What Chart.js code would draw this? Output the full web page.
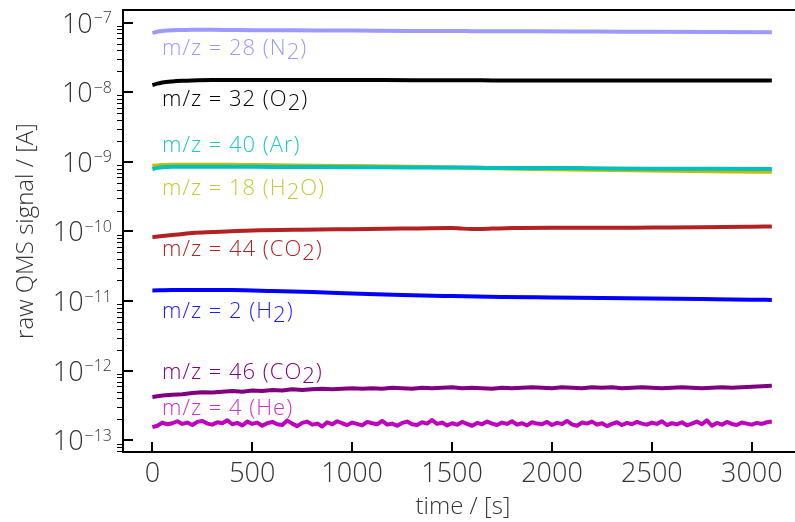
<!DOCTYPE html>
<html><head><meta charset="utf-8">
<script src="https://cdn.jsdelivr.net/npm/chart.js@4.4.0/dist/chart.umd.min.js"></script>
<style>html,body{margin:0;padding:0;overflow:hidden;background:#fff;width:795px;height:522px}#wrap{width:795px;height:522px}</style>
</head><body><div id="wrap"><canvas id="c" width="795" height="522"></canvas></div>
<script>
// ---- data (time in s, signal in A) ----
const tN2 = [0,25,50,100,150,200,300,400,500,700,1000,1300,1500,1600,1700,1900,2200,2500,2800,3100];
const vN2 = [7.1,7.4,7.6,7.8,7.85,7.9,7.9,7.85,7.8,7.75,7.7,7.6,7.6,7.55,7.5,7.5,7.45,7.4,7.35,7.3]; // x1e-8
const tO2 = tN2;
const vO2 = [1.27,1.33,1.38,1.43,1.46,1.48,1.50,1.50,1.50,1.50,1.50,1.49,1.49,1.49,1.48,1.48,1.48,1.47,1.47,1.47]; // x1e-8
const tAr = tN2;
const vAr = [7.9,8.2,8.4,8.5,8.5,8.5,8.5,8.5,8.5,8.45,8.4,8.3,8.3,8.3,8.2,8.2,8.1,8.0,7.95,7.9]; // x1e-10
const tH2O = tN2;
const vH2O = [8.8,8.9,9.0,9.1,9.1,9.1,9.1,9.1,9.0,8.9,8.7,8.5,8.3,8.2,8.1,7.9,7.7,7.5,7.35,7.2]; // x1e-10
const tCO2a = [0,50,100,200,300,500,750,1000,1250,1500,1550,1600,1650,1700,1800,2000,2250,2500,2750,3000,3100];
const vCO2a = [0.83,0.86,0.89,0.95,0.98,1.03,1.06,1.08,1.10,1.12,1.10,1.09,1.09,1.10,1.12,1.13,1.13,1.14,1.15,1.17,1.18]; // x1e-10
const tH2 = [0,100,200,400,600,800,1000,1250,1500,1750,2000,2250,2500,2750,3000,3100];
const vH2 = [1.42,1.44,1.44,1.44,1.40,1.35,1.29,1.22,1.18,1.15,1.13,1.11,1.09,1.07,1.05,1.04]; // x1e-11
const tCO2b = [0,50,100,150,200,250,300,350,400,450,500,550,600,650,700,750,800,850,900,950,1000,1050,1100,1150,1200,1250,1300,1350,1400,1450,1500,1550,1600,1650,1700,1750,1800,1850,1900,1950,2000,2050,2100,2150,2200,2250,2300,2350,2400,2450,2500,2550,2600,2650,2700,2750,2800,2850,2900,2950,3000,3050,3100];
const vCO2b = [4.2,4.4,4.5,4.6,4.8,4.9,4.85,5.0,5.1,5.0,5.2,5.1,5.3,5.2,5.4,5.3,5.4,5.5,5.4,5.5,5.6,5.5,5.6,5.5,5.7,5.6,5.5,5.7,5.6,5.7,5.8,5.6,5.7,5.6,5.5,5.7,5.6,5.7,5.8,5.7,5.6,5.8,5.7,5.6,5.8,5.7,5.8,5.6,5.7,5.8,5.7,5.6,5.7,5.8,5.7,5.6,5.7,5.8,5.7,5.8,5.9,6.0,6.1]; // x1e-13
const tHe = [0,25,50,75,100,125,150,175,200,225,
  250,275,300,325,350,375,400,425,450,475,
  500,525,550,575,600,625,650,675,700,725,
  750,775,800,825,850,875,900,925,950,975,
  1000,1025,1050,1075,1100,1125,1150,1175,1200,1225,
  1250,1275,1300,1325,1350,1375,1400,1425,1450,1475,
  1500,1525,1550,1575,1600,1625,1650,1675,1700,1725,
  1750,1775,1800,1825,1850,1875,1900,1925,1950,1975,
  2000,2025,2050,2075,2100,2125,2150,2175,2200,2225,
  2250,2275,2300,2325,2350,2375,2400,2425,2450,2475,
  2500,2525,2550,2575,2600,2625,2650,2675,2700,2725,
  2750,2775,2800,2825,2850,2875,2900,2925,2950,2975,
  3000,3025,3050,3075,3100];
const vHe = [1.55,1.62,1.80,1.70,1.76,1.88,1.72,1.80,1.66,1.84,
  1.90,1.74,1.68,1.82,1.76,1.94,1.70,1.78,1.64,1.86,
  1.72,1.80,1.62,1.76,1.84,1.70,1.66,1.92,1.74,1.60,
  1.78,1.86,1.68,1.74,1.58,1.82,1.70,1.88,1.76,1.66,
  1.80,1.72,1.64,1.84,1.76,1.70,1.90,1.68,1.74,1.62,
  1.78,1.86,1.70,1.66,1.82,1.74,1.96,1.72,1.80,1.64,
  1.76,1.68,1.84,1.72,1.62,1.78,1.70,1.86,1.74,1.66,
  1.80,1.72,1.88,1.68,1.76,1.64,1.82,1.74,1.70,1.84,
  1.66,1.78,1.72,1.90,1.70,1.62,1.80,1.74,1.86,1.68,
  1.76,1.60,1.72,1.82,1.66,1.78,1.70,1.84,1.74,1.68,
  1.80,1.72,1.88,1.66,1.76,1.70,1.82,1.64,1.74,1.86,
  1.70,1.94,1.62,1.78,1.68,1.84,1.72,1.66,1.80,1.74,
  1.68,1.78,1.72,1.82,1.86]; // x1e-13

const xTicks = [0,500,1000,1500,2000,2500,3000];
const yTickExps = [-13,-12,-11,-10,-9,-8,-7];
const xTitle = 'time / [s]';
const yTitle = 'raw QMS signal / [A]';

// labels: [prefix, subscript, suffix], position (time, signal)
const labelParts = [
  ['m/z = 28 (N','2',')'],
  ['m/z = 32 (O','2',')'],
  ['m/z = 40 (Ar)','',''],
  ['m/z = 18 (H','2','O)'],
  ['m/z = 44 (CO','2',')'],
  ['m/z = 2 (H','2',')'],
  ['m/z = 46 (CO','2',')'],
  ['m/z = 4 (He)','','']
];
const labelX = [48,48,48,48,48,48,48,48];
const labelY = [3.44e-8,6.35e-9,1.40e-9,3.34e-10,4.45e-11,5.71e-12,7.52e-13,2.31e-13];
const labelColors = ['#9a9aff','#000000','#1ec8c8','#c8c832','#b22222','#1a1aff','#800080','#cc33cc'];

const pts = (t, v, s) => t.map((x, i) => ({x: x, y: v[i] * s}));

const FONT = '"Open Sans", "DejaVu Sans", sans-serif';

const decor = {
  id: 'decor',
  afterDraw(chart) {
    const ctx = chart.ctx, a = chart.chartArea;
    const xs = chart.scales.x, ys = chart.scales.y;
    ctx.save();
    // keep the right edge clear (the right spine lies beyond the picture)
    ctx.fillStyle = '#fff';
    ctx.fillRect(786, a.top + 2, 10, a.bottom - a.top - 4);
    ctx.strokeStyle = '#000';
    // spines (left, bottom, top)
    ctx.lineWidth = 2;
    ctx.beginPath();
    ctx.moveTo(a.left, a.top); ctx.lineTo(a.right, a.top);
    ctx.moveTo(a.left, a.top - 1); ctx.lineTo(a.left, a.bottom + 1);
    ctx.moveTo(a.left - 1, a.bottom); ctx.lineTo(a.right, a.bottom);
    ctx.stroke();
    // major ticks (inward)
    ctx.beginPath();
    yTickExps.forEach(e => {
      const y = Math.round(ys.getPixelForValue(Math.pow(10, e)));
      ctx.moveTo(a.left, y); ctx.lineTo(a.left + 10, y);
    });
    xTicks.forEach(t => {
      const x = Math.round(xs.getPixelForValue(t));
      ctx.moveTo(x, a.bottom); ctx.lineTo(x, a.bottom - 10);
    });
    ctx.stroke();
    // minor y ticks (outward)
    ctx.lineWidth = 1.2;
    ctx.beginPath();
    for (let e = -14; e <= -7; e++) {
      for (let m = 2; m <= 9; m++) {
        const v = m * Math.pow(10, e);
        if (v < ys.min || v > ys.max) continue;
        const y = Math.round(ys.getPixelForValue(v)) + 0.5;
        ctx.moveTo(a.left - 6, y); ctx.lineTo(a.left, y);
      }
    }
    ctx.stroke();
    // y tick labels
    ctx.fillStyle = '#333';
    yTickExps.forEach(e => {
      const y = ys.getPixelForValue(Math.pow(10, e));
      const exp = '\u2212' + Math.abs(e);
      ctx.font = '300 16px ' + FONT;
      const ew = ctx.measureText(exp).width;
      ctx.textAlign = 'right'; ctx.textBaseline = 'alphabetic';
      ctx.fillText(exp, 112, y + 0.5);
      ctx.font = '300 27px ' + FONT;
      ctx.fillText('10', 112 - ew - 1, y + 10);
    });
    // x tick labels
    ctx.font = '300 27px ' + FONT;
    ctx.textAlign = 'center';
    xTicks.forEach(t => {
      ctx.fillText(String(t), xs.getPixelForValue(t), 482);
    });
    // axis titles
    ctx.font = '300 24px ' + FONT;
    ctx.fillText(xTitle, 463, 514);
    ctx.save();
    ctx.translate(33, 231);
    ctx.rotate(-Math.PI / 2);
    ctx.textAlign = 'center';
    ctx.fillText(yTitle, 0, 0);
    ctx.restore();
    // series labels
    ctx.font = '300 22px ' + FONT;
    ctx.letterSpacing = '1px';
    ctx.textAlign = 'left';
    labelParts.forEach((p, i) => {
      let x = xs.getPixelForValue(labelX[i]);
      const y = ys.getPixelForValue(labelY[i]);
      ctx.fillStyle = labelColors[i];
      ctx.fillText(p[0], x, y); x += ctx.measureText(p[0]).width;
      if (p[1]) { ctx.fillText(p[1], x, y + 4); x += ctx.measureText(p[1]).width; }
      if (p[2]) ctx.fillText(p[2], x, y);
    });
    ctx.restore();
  }
};

const smooth = {cubicInterpolationMode: 'monotone'};
new Chart(document.getElementById('c'), {
  type: 'line',
  data: {
    datasets: [
      Object.assign({data: pts(tN2, vN2, 1e-8), borderColor: '#9a9aff'}, smooth),
      Object.assign({data: pts(tO2, vO2, 1e-8), borderColor: '#000000'}, smooth),
      Object.assign({data: pts(tAr, vAr, 1e-10), borderColor: '#00bfbf'}, smooth),
      Object.assign({data: pts(tH2O, vH2O, 1e-10), borderColor: '#bfbf00'}, smooth),
      Object.assign({data: pts(tCO2a, vCO2a, 1e-10), borderColor: '#b22222'}, smooth),
      Object.assign({data: pts(tH2, vH2, 1e-11), borderColor: '#0000ff'}, smooth),
      {data: pts(tCO2b, vCO2b, 1e-13), borderColor: '#800080', tension: 0},
      {data: pts(tHe, vHe, 1e-13), borderColor: '#bf00bf', tension: 0}
    ]
  },
  options: {
    responsive: false,
    animation: false,
    layout: {padding: {left: 123, top: 10, right: 0, bottom: 70}},
    elements: {point: {radius: 0}, line: {borderWidth: 4, borderJoinStyle: 'round', borderCapStyle: 'butt'}},
    scales: {
      x: {type: 'linear', min: -147, max: 3216, display: false},
      y: {type: 'logarithmic', min: 6.8e-14, max: 1.52e-7, display: false}
    },
    plugins: {legend: {display: false}, tooltip: {enabled: false}}
  },
  plugins: [decor]
});
</script></body></html>
